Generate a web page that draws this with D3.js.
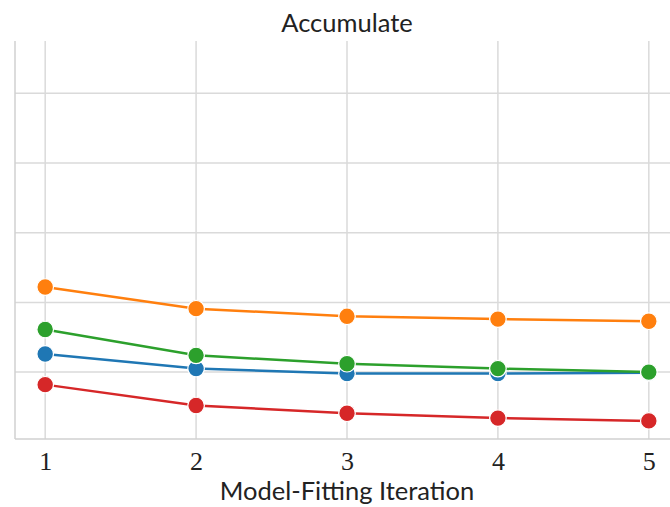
<!DOCTYPE html>
<html>
<head>
<meta charset="utf-8">
<script src="https://cdn.jsdelivr.net/npm/d3@7"></script>
<style>
  body { margin: 0; background: #fff; overflow: hidden; }
  svg { display: block; }
</style>
</head>
<body>
<div id="chart"></div>
<script>
// chart values
let iterations = [1, 2, 3, 4, 5];
let seriesNames = ["blue", "orange", "green", "red"];
let blueValues = [0.126, 0.105, 0.098, 0.098, 0.099];
let orangeValues = [0.222, 0.191, 0.180, 0.176, 0.173];
let greenValues = [0.161, 0.124, 0.112, 0.105, 0.100];
let redValues = [0.082, 0.052, 0.041, 0.034, 0.030];
let yGridValues = [0.1, 0.2, 0.3, 0.4, 0.5];

let width = 670, height = 507;
let margin = {top: 41, right: -9, bottom: 68, left: 15};
let plot_w = width - margin.left - margin.right;
let plot_h = height - margin.top - margin.bottom;

let colors = {blue: "#1f77b4", orange: "#ff7f0e", green: "#2ca02c", red: "#d62728"};
let series = [
    {name: "blue", values: blueValues},
    {name: "orange", values: orangeValues},
    {name: "green", values: greenValues},
    {name: "red", values: redValues}
];

let svg = d3.select("#chart")
    .append("svg")
    .attr("width", width)
    .attr("height", height)
    .append("g")
    .attr("transform", `translate(${margin.left}, ${margin.top})`);

let x = d3.scaleLinear()
    .domain([0.8, 5.2])
    .range([0, plot_w]);

let y = d3.scaleLinear()
    .domain([0.004, 0.575])
    .range([plot_h, 0]);

// grid lines
svg.append("g")
    .selectAll("line.vgrid")
    .data(iterations)
    .enter()
    .append("line")
    .attr("x1", d => x(d)).attr("x2", d => x(d))
    .attr("y1", 0).attr("y2", plot_h)
    .attr("stroke", "#dadada")
    .attr("stroke-width", 1.5);

svg.append("g")
    .selectAll("line.hgrid")
    .data(yGridValues)
    .enter()
    .append("line")
    .attr("x1", 0).attr("x2", plot_w)
    .attr("y1", d => y(d)).attr("y2", d => y(d))
    .attr("stroke", "#dadada")
    .attr("stroke-width", 1.5);

// spines (left + bottom, light grey)
svg.append("line")
    .attr("x1", 0).attr("x2", 0).attr("y1", 0).attr("y2", plot_h)
    .attr("stroke", "#d0d0d0").attr("stroke-width", 1.5);
svg.append("line")
    .attr("x1", 0).attr("x2", plot_w).attr("y1", plot_h).attr("y2", plot_h)
    .attr("stroke", "#d0d0d0").attr("stroke-width", 1.5);

// x axis tick labels
let xAxis = svg.append("g")
    .attr("transform", `translate(0, ${plot_h})`)
    .call(d3.axisBottom(x).tickValues(iterations).tickFormat(d3.format("d")).tickSize(0).tickPadding(13));
xAxis.select(".domain").remove();
xAxis.selectAll("text")
    .style("font-family", "'Liberation Serif', 'DejaVu Serif', serif")
    .style("font-size", "26px")
    .attr("fill", "#222");

let line = d3.line()
    .x((d, i) => x(iterations[i]))
    .y(d => y(d));

series.forEach(function(s) {
    svg.append("path")
        .datum(s.values)
        .attr("fill", "none")
        .attr("stroke", colors[s.name])
        .attr("stroke-width", 2.5)
        .attr("d", line);

    svg.append("g")
        .selectAll("circle")
        .data(s.values)
        .enter()
        .append("circle")
        .attr("cx", (d, i) => x(iterations[i]))
        .attr("cy", d => y(d))
        .attr("r", 8.3)
        .attr("fill", colors[s.name])
        .attr("stroke", "#fff")
        .attr("stroke-width", 1.2);
});

// title
svg.append("text")
    .attr("x", plot_w / 2)
    .attr("y", -9)
    .style("text-anchor", "middle")
    .style("font-family", "Lato, 'Open Sans', sans-serif")
    .style("font-size", "25.5px")
    .attr("fill", "#222")
    .text("Accumulate");

// x label
svg.append("text")
    .attr("x", plot_w / 2)
    .attr("y", plot_h + 61)
    .style("text-anchor", "middle")
    .style("font-family", "Lato, 'Open Sans', sans-serif")
    .style("font-size", "25.5px")
    .attr("fill", "#222")
    .text("Model-Fitting Iteration");
</script>
</body>
</html>
